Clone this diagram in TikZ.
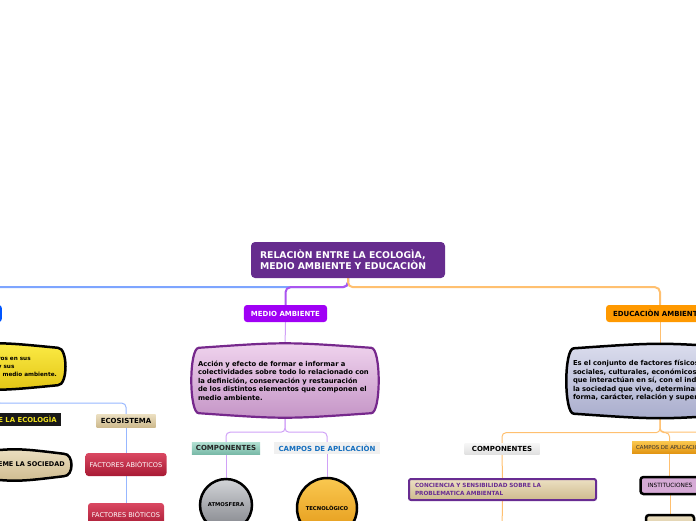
\documentclass[tikz,border=0pt]{standalone}
\usepackage{fontspec}
\setmainfont{DejaVu Sans}
\usetikzlibrary{positioning,calc,backgrounds}
\definecolor{rootpurple}{RGB}{102,44,142}
\definecolor{medviolet}{RGB}{160,0,245}
\definecolor{ecoblue}{RGB}{0,85,255}
\definecolor{eduorange}{RGB}{255,153,0}
\definecolor{blueline}{RGB}{125,165,255}
\definecolor{purpline}{RGB}{170,85,240}
\definecolor{orangeline}{RGB}{255,192,112}
\definecolor{pinktop}{RGB}{240,212,238}
\definecolor{pinkbot}{RGB}{196,148,198}
\definecolor{pinkedge}{RGB}{118,40,140}
\definecolor{yeltop}{RGB}{252,236,70}
\definecolor{yelbot}{RGB}{226,196,20}
\definecolor{slatetop}{RGB}{220,222,238}
\definecolor{slatebot}{RGB}{168,172,204}
\definecolor{tantop}{RGB}{236,224,194}
\definecolor{tanbot}{RGB}{206,186,142}
\definecolor{tealtop}{RGB}{178,224,210}
\definecolor{tealbot}{RGB}{122,186,168}
\definecolor{crimtop}{RGB}{218,72,98}
\definecolor{crimbot}{RGB}{168,26,52}
\definecolor{goldtop}{RGB}{250,200,80}
\definecolor{goldbot}{RGB}{226,150,20}
\definecolor{atmotop}{RGB}{210,212,216}
\definecolor{atmobot}{RGB}{128,130,136}
\definecolor{campblue}{RGB}{20,110,190}
\definecolor{concpurple}{RGB}{104,44,146}
\definecolor{instpink}{RGB}{214,170,214}
\definecolor{impyellow}{RGB}{240,225,30}

% bulging outline drawn round a node: #1 node name, #2 look
\newcommand\barrel[2]{%
  \path[#2] ($(#1.north west)+(5,0)$)
    .. controls ($(#1.north)+(0,-6)$) .. ($(#1.north east)+(-5,0)$)
    .. controls ($(#1.north east)+(5,0)$) and ($(#1.south east)+(5,0)$) .. ($(#1.south east)+(-5,0)$)
    .. controls ($(#1.south)+(0,6)$) .. ($(#1.south west)+(5,0)$)
    .. controls ($(#1.south west)+(-5,0)$) and ($(#1.north west)+(-5,0)$) .. cycle;}

\tikzset{
  rootbox/.style={fill=rootpurple, rounded corners=4pt, minimum width=194, minimum height=36,
    text width=176, align=left, inner sep=0pt, text=white, font=\bfseries\fontsize{9.3}{10.9}\selectfont},
  topic/.style={rounded corners=3pt, minimum height=17, inner xsep=7pt, inner ysep=0pt,
    font=\bfseries\fontsize{7}{8}\selectfont},
  desc/.style={minimum width=182, minimum height=65, text width=174, align=left, inner sep=0pt,
    font=\bfseries\fontsize{6.8}{8.5}\selectfont},
  tag/.style={minimum height=12, inner xsep=4pt, inner ysep=0pt, font=\bfseries\fontsize{7}{8}\selectfont},
  bubble/.style={circle, draw=black, line width=2.5pt, inner sep=0pt, font=\bfseries\fontsize{5.3}{6}\selectfont},
  redbox/.style={rounded corners=3pt, minimum height=23, inner sep=0pt, text=white,
    top color=crimtop, bottom color=crimbot, font=\fontsize{6.6}{7.5}\selectfont},
  blackedge/.style={draw=black, line width=2.5pt, rounded corners=3pt},
  trunk/.style={line width=2pt, rounded corners=5pt},
  twig/.style={line width=1pt, rounded corners=4pt},
}

\begin{document}
\begin{tikzpicture}[x=1pt,y=-1pt]
  \useasboundingbox (0,0) rectangle (696,520);
  % --- central topic ---
  \node[rootbox] (root) at (348,260) {RELACIÒN ENTRE LA ECOLOGÌA,\\MEDIO AMBIENTE Y EDUCACIÒN};
  % --- main branches ---
  \node[topic, fill=ecoblue, text=white, anchor=east] (eco) at (2,313.5) {ECOLOGÌA};
  \node[topic, fill=medviolet, text=white] (medio) at (285.5,313.5) {MEDIO AMBIENTE};
  \node[topic, fill=eduorange] (edu) at (660,313.5) {EDUCACIÒN AMBIENTAL};
  % --- definitions ---
  \node[align=left, inner xsep=6pt, inner ysep=0pt, minimum height=37,
        font=\bfseries\fontsize{5.7}{7.8}\selectfont, anchor=east] (ydesc) at (63,366.5)
        {los seres vivos y otros en sus\\relaciones entre sí y sus\\interacciones con el medio ambiente.};
  \node[desc] (mdesc) at (285,380.5)
        {Acción y efecto de formar e informar a\\colectividades sobre todo lo relacionado con\\la definición, conservación y restauración\\de los distintos elementos que componen el\\medio ambiente.};
  \node[desc] (edesc) at (660,381)
        {Es el conjunto de factores físicos, naturales,\\sociales, culturales, económicos y estéticos\\que interactúan en sí, con el individuo y con\\la sociedad que vive, determinando su\\forma, carácter, relación y supervivencia.};
  % --- ecología side ---
  \node[tag, fill=black!90, text=impyellow, minimum height=13, anchor=east, font=\bfseries\fontsize{6.9}{7.5}\selectfont]
        (imp) at (61,419.5) {LA IMPORTANCIA DE LA ECOLOGÌA};
  \node[inner xsep=4pt, inner ysep=0pt, minimum height=22, anchor=east, font=\bfseries\fontsize{6.5}{7.5}\selectfont]
        (soc) at (69,465) {LO QUE TEME LA SOCIEDAD};
  \node[tag, top color=tantop, bottom color=tanbot, minimum width=59, minimum height=13] (ecos) at (126,420.5) {ECOSISTEMA};
  \node[redbox, minimum width=81] (abio) at (126,464.5) {FACTORES ABIÒTICOS};
  \node[redbox, minimum width=76] (bio) at (126,514.5) {FACTORES BIÒTICOS};
  % --- medio ambiente side ---
  \node[tag, top color=tealtop, bottom color=tealbot, text=black!85, minimum width=67] (mcomp) at (226,448) {COMPONENTES};
  \node[tag, fill=black!6, text=campblue, minimum width=106] (mcamp) at (327,448) {CAMPOS DE APLICACIÒN};
  \node[bubble, minimum size=52, top color=atmotop, bottom color=atmobot] (atmo) at (226,505) {ATMOSFERA};
  \node[bubble, minimum size=60, top color=goldtop, bottom color=goldbot] (tecno) at (327,508) {TECNOLÒGICO};
  % --- educación side ---
  \node[tag, top color=black!3, bottom color=black!12, minimum width=75, minimum height=11] (ecomp) at (502,448.5) {COMPONENTES};
  \node[tag, top color=goldtop, bottom color=goldbot, text=black!80, anchor=west,
        font=\fontsize{5.4}{6}\selectfont] (ecamp) at (632,447) {CAMPOS DE APLICACIÒN};
  \node[tag, blackedge, rounded corners=2pt, draw=concpurple, line width=2pt, top color=tantop, bottom color=tanbot,
        text=concpurple, minimum width=187, minimum height=21, text width=175, align=left,
        font=\bfseries\fontsize{5.7}{7.3}\selectfont] (conc) at (502.5,489.5)
        {CONCIENCIA Y SENSIBILIDAD SOBRE LA\\PROBLEMATICA AMBIENTAL};
  \node[blackedge, fill=instpink, minimum width=59, minimum height=17, inner sep=0pt,
        font=\fontsize{5.8}{7}\selectfont] (inst) at (670,485.5) {INSTITUCIONES};
  \node[blackedge, top color=tantop, bottom color=tanbot, minimum width=48, minimum height=22] (inst2) at (670,526) {};
  \coordinate (cbelow) at (502,530);
  \coordinate (eright) at (760,432);
  % --- connectors and outlines, behind the nodes ---
  \begin{scope}[on background layer]
    \draw[trunk, blueline] (root.south) -- ++(0,9) -| (eco.north);
    \draw[trunk, purpline] (root.south) -- ++(0,9) -| (medio.north);
    \draw[trunk, orangeline] (root.south) -- ++(0,9) -| (edu.north);
    % ecología
    \draw[twig, blueline!80] (eco.south) -- (eco.south |- ydesc.north);
    \draw[twig, blueline!80] (ydesc.south) -- ++(0,18) -| (imp.north);
    \draw[twig, blueline!80] (ydesc.south) -- ++(0,18) -| (ecos.north);
    \draw[twig, blueline!80] (imp.south) -- (imp.south |- soc.north);
    \draw[twig, blueline!80] (ecos.south) -- (abio.north);
    \draw[twig, blueline!80] (abio.south) -- (bio.north);
    % medio ambiente
    \draw[twig, purpline!55] (medio.south) -- (mdesc.north);
    \draw[twig, purpline!55] (mdesc.south) -- ++(0,19) -| (mcomp.north);
    \draw[twig, purpline!55] (mdesc.south) -- ++(0,19) -| (mcamp.north);
    \draw[twig, purpline!55] (mcomp.south) -- (atmo.north);
    \draw[twig, purpline!55] (mcamp.south) -- (tecno.north);
    % educación
    \draw[twig, orangeline] (edu.south) -- (edesc.north);
    \draw[twig, orangeline] (edesc.south) -- ++(0,19) -| (ecomp.north);
    \draw[twig, orangeline] (edesc.south) -- ++(0,19) -| (ecamp.north);
    \draw[twig, orangeline] (edesc.south) |- (eright);
    \draw[twig, orangeline] (ecomp.south) -- (conc.north);
    \draw[twig, orangeline] (conc.south) -- (cbelow);
    \draw[twig, orangeline] (ecamp.south) -- (ecamp.south |- inst.north);
    \draw[twig, orangeline] (inst.south) -- (inst2.north);
    % bulging outlines
    \barrel{ydesc}{draw=black, line width=2.5pt, top color=yeltop, bottom color=yelbot}
    \barrel{soc}{draw=black, line width=2.5pt, top color=tantop, bottom color=tanbot}
    \barrel{mdesc}{draw=pinkedge, line width=2.2pt, top color=pinktop, bottom color=pinkbot}
    \barrel{edesc}{draw=black, line width=2.5pt, top color=slatetop, bottom color=slatebot}
  \end{scope}
\end{tikzpicture}
\end{document}
